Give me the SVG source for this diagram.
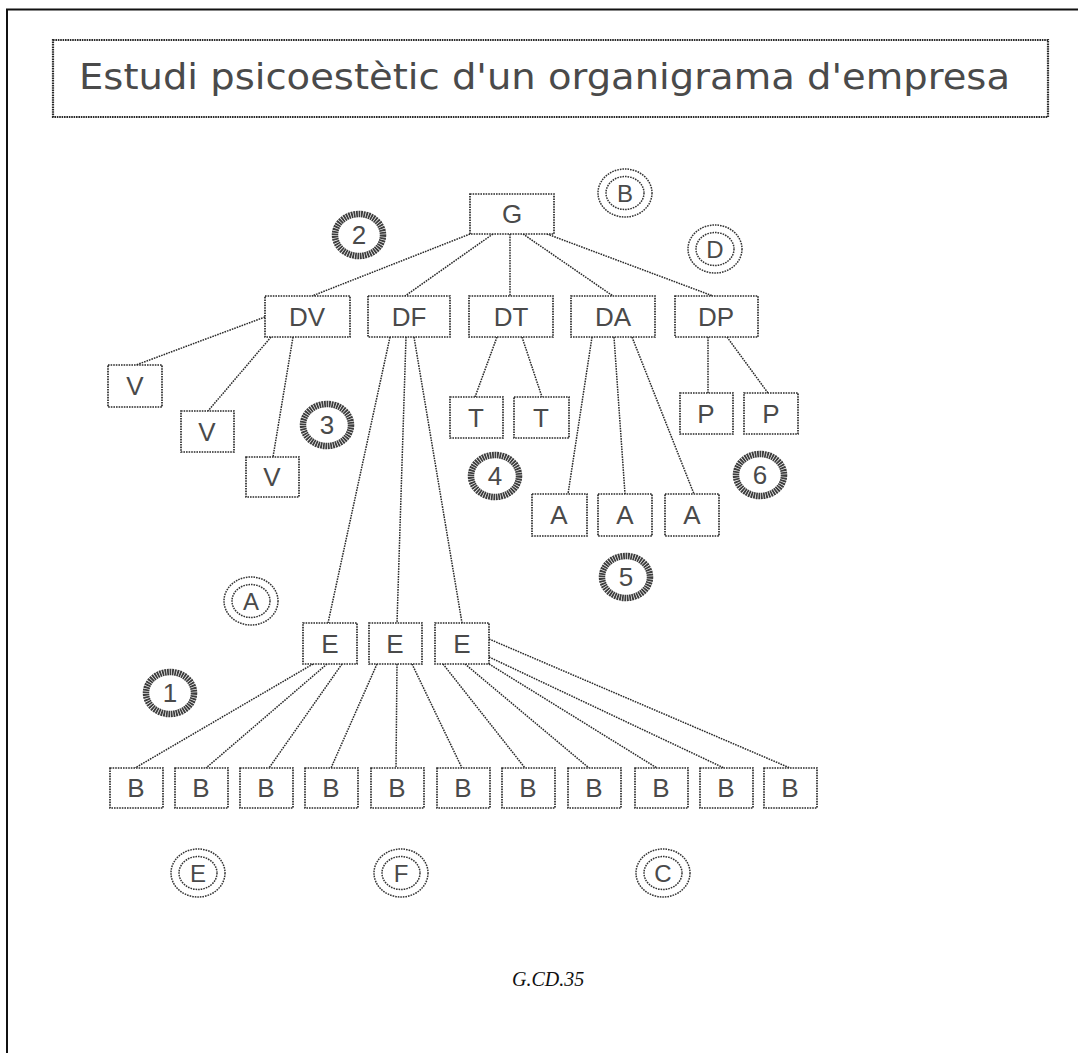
<svg xmlns="http://www.w3.org/2000/svg" width="1078" height="1053" viewBox="0 0 1078 1053">
<style>
.bx{fill:#fff;stroke:#2a2a2a;stroke-width:1.7;stroke-dasharray:1.6 1}
.lb{font-family:"Liberation Sans",Arial,sans-serif;font-size:26px;fill:#4a4a4a;text-anchor:middle}
.cn line{stroke:#2a2a2a;stroke-width:1.5;stroke-dasharray:1.6 1}
.ring{fill:none;stroke:#3c3c3c;stroke-width:6.5;stroke-dasharray:1.8 0.7}
.dbl{fill:none;stroke:#333;stroke-width:1.5;stroke-dasharray:1.6 1}
.cl{font-family:"Liberation Sans",Arial,sans-serif;font-size:24px;fill:#4a4a4a;text-anchor:middle}
.nl{font-family:"Liberation Sans",Arial,sans-serif;font-size:26px;fill:#4a4a4a;text-anchor:middle}
</style>
<rect width="1078" height="1053" fill="#fff"/>
<path d="M7,1053 V9.5 H1078" fill="none" stroke="#111" stroke-width="2"/>
<g id="title">
<rect x="53" y="40" width="995" height="77" fill="none" stroke="#2a2a2a" stroke-width="2.2" stroke-dasharray="1.6 0.8"/>
<text x="79" y="89" font-family="'DejaVu Sans','Liberation Sans',sans-serif" font-size="35" fill="#4a4a4a" textLength="931" lengthAdjust="spacingAndGlyphs">Estudi psicoestètic d'un organigrama d'empresa</text>
</g>
<g id="connectors" class="cn">
<line x1="470" y1="234" x2="312" y2="296"/>
<line x1="493" y1="234" x2="405" y2="296"/>
<line x1="510" y1="234" x2="510" y2="296"/>
<line x1="523" y1="234" x2="613" y2="296"/>
<line x1="547" y1="234" x2="713" y2="296"/>
<line x1="265" y1="317" x2="136" y2="365"/>
<line x1="271" y1="337" x2="208" y2="411"/>
<line x1="293" y1="337" x2="273" y2="457"/>
<line x1="390" y1="337" x2="328" y2="623"/>
<line x1="406" y1="337" x2="397" y2="623"/>
<line x1="414" y1="337" x2="462" y2="623"/>
<line x1="497" y1="337" x2="475" y2="397"/>
<line x1="522" y1="337" x2="542" y2="397"/>
<line x1="592" y1="337" x2="568" y2="494"/>
<line x1="614" y1="337" x2="625" y2="494"/>
<line x1="632" y1="337" x2="694" y2="494"/>
<line x1="708" y1="337" x2="708" y2="393"/>
<line x1="727" y1="337" x2="768" y2="393"/>
<line x1="313" y1="664" x2="135" y2="768"/>
<line x1="327" y1="664" x2="206" y2="768"/>
<line x1="342" y1="664" x2="269" y2="768"/>
<line x1="377" y1="664" x2="331" y2="768"/>
<line x1="397" y1="664" x2="396" y2="768"/>
<line x1="412" y1="664" x2="462" y2="768"/>
<line x1="443" y1="664" x2="525" y2="768"/>
<line x1="465" y1="664" x2="589" y2="768"/>
<line x1="489" y1="664" x2="657" y2="768"/>
<line x1="489" y1="657" x2="724" y2="768"/>
<line x1="489" y1="639" x2="790" y2="768"/>
</g>
<g id="n-G"><rect class="bx" x="470" y="194" width="84" height="40"/><text class="lb" x="512" y="223">G</text></g>
<g id="n-DV"><rect class="bx" x="265" y="296" width="85" height="41"/><text class="lb" x="307" y="326">DV</text></g>
<g id="n-DF"><rect class="bx" x="368" y="296" width="82" height="41"/><text class="lb" x="409" y="326">DF</text></g>
<g id="n-DT"><rect class="bx" x="469" y="296" width="84" height="41"/><text class="lb" x="511" y="326">DT</text></g>
<g id="n-DA"><rect class="bx" x="571" y="296" width="84" height="41"/><text class="lb" x="613" y="326">DA</text></g>
<g id="n-DP"><rect class="bx" x="675" y="296" width="83" height="41"/><text class="lb" x="716" y="326">DP</text></g>
<g id="n-V1"><rect class="bx" x="108" y="365" width="54" height="42"/><text class="lb" x="135" y="395">V</text></g>
<g id="n-V2"><rect class="bx" x="181" y="411" width="53" height="41"/><text class="lb" x="207" y="441">V</text></g>
<g id="n-V3"><rect class="bx" x="246" y="457" width="53" height="40"/><text class="lb" x="272" y="486">V</text></g>
<g id="n-T1"><rect class="bx" x="450" y="397" width="53" height="41"/><text class="lb" x="476" y="427">T</text></g>
<g id="n-T2"><rect class="bx" x="514" y="397" width="55" height="41"/><text class="lb" x="541" y="427">T</text></g>
<g id="n-P1"><rect class="bx" x="680" y="393" width="53" height="41"/><text class="lb" x="706" y="423">P</text></g>
<g id="n-P2"><rect class="bx" x="744" y="393" width="54" height="41"/><text class="lb" x="771" y="423">P</text></g>
<g id="n-A1"><rect class="bx" x="532" y="494" width="55" height="42"/><text class="lb" x="559" y="524">A</text></g>
<g id="n-A2"><rect class="bx" x="598" y="494" width="54" height="42"/><text class="lb" x="625" y="524">A</text></g>
<g id="n-A3"><rect class="bx" x="665" y="494" width="54" height="42"/><text class="lb" x="692" y="524">A</text></g>
<g id="n-E1"><rect class="bx" x="303" y="623" width="54" height="41"/><text class="lb" x="330" y="653">E</text></g>
<g id="n-E2"><rect class="bx" x="369" y="623" width="53" height="41"/><text class="lb" x="395" y="653">E</text></g>
<g id="n-E3"><rect class="bx" x="435" y="623" width="54" height="41"/><text class="lb" x="462" y="653">E</text></g>
<g id="n-B1"><rect class="bx" x="110" y="768" width="53" height="40"/><text class="lb" x="136" y="797">B</text></g>
<g id="n-B2"><rect class="bx" x="175" y="768" width="53" height="40"/><text class="lb" x="201" y="797">B</text></g>
<g id="n-B3"><rect class="bx" x="240" y="768" width="53" height="40"/><text class="lb" x="266" y="797">B</text></g>
<g id="n-B4"><rect class="bx" x="305" y="768" width="53" height="40"/><text class="lb" x="331" y="797">B</text></g>
<g id="n-B5"><rect class="bx" x="371" y="768" width="53" height="40"/><text class="lb" x="397" y="797">B</text></g>
<g id="n-B6"><rect class="bx" x="437" y="768" width="53" height="40"/><text class="lb" x="463" y="797">B</text></g>
<g id="n-B7"><rect class="bx" x="502" y="768" width="53" height="40"/><text class="lb" x="528" y="797">B</text></g>
<g id="n-B8"><rect class="bx" x="568" y="768" width="53" height="40"/><text class="lb" x="594" y="797">B</text></g>
<g id="n-B9"><rect class="bx" x="635" y="768" width="53" height="40"/><text class="lb" x="661" y="797">B</text></g>
<g id="n-B10"><rect class="bx" x="700" y="768" width="53" height="40"/><text class="lb" x="726" y="797">B</text></g>
<g id="n-B11"><rect class="bx" x="764" y="768" width="53" height="40"/><text class="lb" x="790" y="797">B</text></g>
<g id="c-B"><ellipse class="dbl" cx="625" cy="193" rx="27" ry="24"/><ellipse class="dbl" cx="625" cy="193" rx="19" ry="16.5"/><text class="cl" x="625" y="202">B</text></g>
<g id="c-D"><ellipse class="dbl" cx="715" cy="249" rx="27" ry="24"/><ellipse class="dbl" cx="715" cy="249" rx="19" ry="16.5"/><text class="cl" x="715" y="258">D</text></g>
<g id="c-A"><ellipse class="dbl" cx="251" cy="601" rx="27" ry="24"/><ellipse class="dbl" cx="251" cy="601" rx="19" ry="16.5"/><text class="cl" x="251" y="610">A</text></g>
<g id="c-E"><ellipse class="dbl" cx="198" cy="873" rx="27" ry="24"/><ellipse class="dbl" cx="198" cy="873" rx="19" ry="16.5"/><text class="cl" x="198" y="882">E</text></g>
<g id="c-F"><ellipse class="dbl" cx="401" cy="873" rx="27" ry="24"/><ellipse class="dbl" cx="401" cy="873" rx="19" ry="16.5"/><text class="cl" x="401" y="882">F</text></g>
<g id="c-C"><ellipse class="dbl" cx="663" cy="873" rx="27" ry="24"/><ellipse class="dbl" cx="663" cy="873" rx="19" ry="16.5"/><text class="cl" x="663" y="882">C</text></g>
<g id="r-1"><ellipse class="ring" cx="170" cy="693" rx="24" ry="21"/><text class="nl" x="170" y="702">1</text></g>
<g id="r-2"><ellipse class="ring" cx="359" cy="235" rx="24" ry="21"/><text class="nl" x="359" y="244">2</text></g>
<g id="r-3"><ellipse class="ring" cx="327" cy="425" rx="24" ry="21"/><text class="nl" x="327" y="434">3</text></g>
<g id="r-4"><ellipse class="ring" cx="495" cy="476" rx="24" ry="21"/><text class="nl" x="495" y="485">4</text></g>
<g id="r-5"><ellipse class="ring" cx="626" cy="577" rx="24" ry="21"/><text class="nl" x="626" y="586">5</text></g>
<g id="r-6"><ellipse class="ring" cx="760" cy="475" rx="24" ry="21"/><text class="nl" x="760" y="484">6</text></g>
<text x="512" y="986" font-family="'Liberation Serif','Times New Roman',serif" font-style="italic" font-size="20" fill="#111">G.CD.35</text>
</svg>
